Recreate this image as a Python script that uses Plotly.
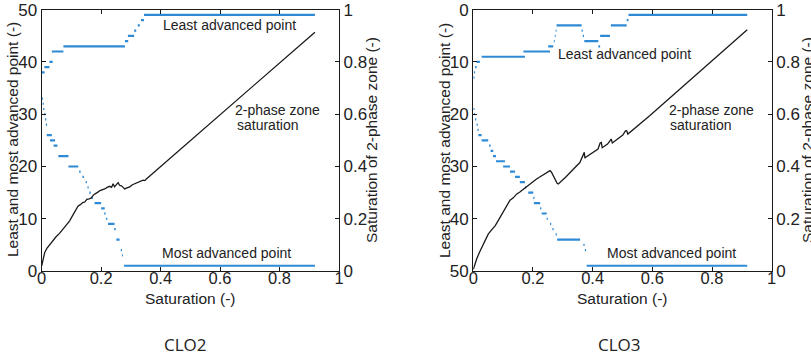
import plotly.graph_objects as go

# ---------------- data: CLO2 ----------------
la2_level = [38, 39, 40, 42, 43, 44, 45, 46, 47, 48, 49]
la2_xs = [0.0, 0.009, 0.026, 0.034, 0.073, 0.280, 0.290, 0.311, 0.323, 0.334, 0.344]
la2_xe = [0.010, 0.026, 0.037, 0.073, 0.280, 0.291, 0.311, 0.318, 0.330, 0.344, 0.919]

ma2_level = [33, 32, 31, 30, 29, 28, 26, 25, 24, 22, 20, 19, 18, 17, 16, 15, 14, 13,
             12, 11, 10, 9, 8, 6, 4, 3, 1]
ma2_xs = [0.0, 0.003, 0.005, 0.008, 0.011, 0.014, 0.017, 0.028, 0.040, 0.056, 0.090,
          0.126, 0.137, 0.148, 0.154, 0.160, 0.166, 0.178, 0.200, 0.210, 0.216, 0.223,
          0.244, 0.251, 0.266, 0.270, 0.277]
ma2_xe = [0.004, 0.007, 0.009, 0.012, 0.015, 0.018, 0.034, 0.045, 0.053, 0.090, 0.123,
          0.131, 0.142, 0.152, 0.158, 0.165, 0.172, 0.200, 0.212, 0.215, 0.221, 0.245,
          0.249, 0.262, 0.270, 0.273, 0.919]

sat2_x = [0, 0.004, 0.010, 0.018, 0.027, 0.038, 0.049, 0.060, 0.072, 0.080, 0.088,
          0.094, 0.100, 0.111, 0.122, 0.130, 0.138, 0.145, 0.152, 0.160, 0.167, 0.175,
          0.182, 0.189, 0.196, 0.204, 0.212, 0.220, 0.229, 0.235, 0.240, 0.245, 0.251,
          0.257, 0.262, 0.268, 0.274, 0.279, 0.287, 0.296, 0.305, 0.312, 0.318, 0.326,
          0.334, 0.341, 0.347, 0.352, 0.919]
sat2_s = [0.020, 0.044, 0.070, 0.088, 0.102, 0.116, 0.132, 0.144, 0.160, 0.170, 0.184,
          0.192, 0.204, 0.224, 0.248, 0.254, 0.262, 0.264, 0.274, 0.276, 0.280, 0.292,
          0.296, 0.302, 0.308, 0.310, 0.314, 0.320, 0.324, 0.320, 0.334, 0.322, 0.332,
          0.338, 0.328, 0.326, 0.320, 0.314, 0.318, 0.322, 0.330, 0.334, 0.338, 0.340,
          0.344, 0.348, 0.346, 0.352, 0.914]

# ---------------- data: CLO3 ----------------
la3_level = [13, 12, 11, 10, 9, 8, 7, 6, 5, 4, 3, 4, 5, 6, 7, 5, 3, 2, 1]
la3_xs = [0.0, 0.002, 0.006, 0.011, 0.028, 0.168, 0.251, 0.270, 0.273, 0.276, 0.279,
          0.363, 0.367, 0.372, 0.419, 0.425, 0.461, 0.514, 0.520]
la3_xe = [0.004, 0.006, 0.011, 0.022, 0.173, 0.257, 0.268, 0.273, 0.276, 0.279, 0.363,
          0.367, 0.371, 0.419, 0.425, 0.458, 0.514, 0.520, 0.918]

ma3_level = [19, 20, 21, 22, 23, 24, 25, 26, 27, 28, 29, 30, 31, 32, 33, 34, 35, 36,
             37, 38, 39, 40, 41, 42, 43, 44, 45, 46, 49]
ma3_xs = [0.0, 0.002, 0.006, 0.011, 0.014, 0.017, 0.028, 0.053, 0.058, 0.066, 0.076,
          0.100, 0.123, 0.140, 0.156, 0.173, 0.184, 0.201, 0.203, 0.224, 0.229, 0.246,
          0.257, 0.265, 0.276, 0.281, 0.369, 0.374, 0.380]
ma3_xe = [0.004, 0.006, 0.010, 0.015, 0.018, 0.028, 0.050, 0.058, 0.067, 0.076, 0.106,
          0.123, 0.140, 0.156, 0.173, 0.177, 0.201, 0.205, 0.224, 0.228, 0.246, 0.250,
          0.261, 0.269, 0.280, 0.358, 0.373, 0.378, 0.918]

sat3_x = [0, 0.005, 0.011, 0.020, 0.028, 0.040, 0.050, 0.062, 0.073, 0.082, 0.089,
          0.098, 0.106, 0.115, 0.123, 0.134, 0.145, 0.156, 0.168, 0.180, 0.190, 0.200,
          0.212, 0.220, 0.229, 0.238, 0.246, 0.252, 0.257, 0.262, 0.268, 0.273, 0.277,
          0.281, 0.285, 0.310, 0.357, 0.365, 0.372, 0.374, 0.377, 0.418, 0.425, 0.429,
          0.432, 0.450, 0.460, 0.462, 0.466, 0.501, 0.510, 0.514, 0.518, 0.592, 0.918]
sat3_s = [0.006, 0.025, 0.045, 0.070, 0.089, 0.115, 0.141, 0.158, 0.173, 0.190, 0.204,
          0.220, 0.237, 0.255, 0.271, 0.280, 0.294, 0.302, 0.313, 0.325, 0.335, 0.342,
          0.352, 0.358, 0.365, 0.370, 0.377, 0.380, 0.384, 0.378, 0.364, 0.350, 0.339,
          0.336, 0.333, 0.360, 0.415, 0.440, 0.454, 0.432, 0.435, 0.467, 0.490, 0.492,
          0.472, 0.486, 0.503, 0.505, 0.490, 0.520, 0.536, 0.537, 0.524, 0.595, 0.923]

x_ticks = [0, 0.2, 0.4, 0.6, 0.8, 1]
x_tick_text = ["0", "0.2", "0.4", "0.6", "0.8", "1"]
pos_ticks = [0, 10, 20, 30, 40, 50]
sat_ticks = [0, 0.2, 0.4, 0.6, 0.8, 1]
sat_tick_text = ["0", "0.2", "0.4", "0.6", "0.8", "1"]

BLUE = "#2e8ad4"
INK = "#1a1a1a"
FONT = "Liberation Sans, Arial, sans-serif"


def steps(levels, xs, xe):
    X, Y = [], []
    for l, a, b in zip(levels, xs, xe):
        X += [a, b, None]
        Y += [l, l, None]
    return X, Y


fig = go.Figure()
for lev, xs, xe, xa, ya in [(la2_level, la2_xs, la2_xe, "x", "y"),
                            (ma2_level, ma2_xs, ma2_xe, "x", "y"),
                            (la3_level, la3_xs, la3_xe, "x2", "y3"),
                            (ma3_level, ma3_xs, ma3_xe, "x2", "y3")]:
    X, Y = steps(lev, xs, xe)
    fig.add_trace(go.Scatter(x=X, y=Y, mode="lines", xaxis=xa, yaxis=ya,
                             line=dict(color=BLUE, width=2.2), connectgaps=False,
                             showlegend=False, hoverinfo="skip"))

fig.add_trace(go.Scatter(x=sat2_x, y=sat2_s, mode="lines", xaxis="x", yaxis="y2",
                         line=dict(color=INK, width=1.3), showlegend=False))
fig.add_trace(go.Scatter(x=sat3_x, y=sat3_s, mode="lines", xaxis="x2", yaxis="y4",
                         line=dict(color=INK, width=1.3), showlegend=False))

W, H = 811, 358


def px(x):
    return x / W


def py(y):
    return 1 - y / H


yd = [py(271), py(9.7)]
xd1 = [px(41.7), px(339)]
xd2 = [px(473.3), px(771.7)]

axis_common = dict(showgrid=False, zeroline=False, showline=True, linecolor=INK,
                   linewidth=1.3, ticks="inside", ticklen=4, tickwidth=1.1,
                   tickcolor=INK, automargin=False,
                   tickfont=dict(family=FONT, size=17, color="#222"))
xaxis_common = dict(axis_common, tickfont=dict(family=FONT, size=16.5, color="#222"))

fig.update_layout(
    width=W, height=H, margin=dict(l=0, r=0, t=0, b=0),
    paper_bgcolor="white", plot_bgcolor="white", showlegend=False,
    xaxis=dict(domain=xd1, range=[0, 1], tickvals=x_ticks, ticktext=x_tick_text,
               anchor="y", mirror="ticks", ticklabelstandoff=-8, **xaxis_common),
    yaxis=dict(domain=yd, range=[0, 50], tickvals=pos_ticks, anchor="x", **axis_common),
    yaxis2=dict(range=[0, 1], tickvals=sat_ticks, ticktext=sat_tick_text,
                overlaying="y", side="right", anchor="x", **axis_common),
    xaxis2=dict(domain=xd2, range=[0, 1], tickvals=x_ticks, ticktext=x_tick_text,
                anchor="y3", mirror="ticks", ticklabelstandoff=-8, **xaxis_common),
    yaxis3=dict(domain=yd, range=[50, 0], tickvals=pos_ticks, anchor="x2", **axis_common),
    yaxis4=dict(range=[0, 1], tickvals=sat_ticks, ticktext=sat_tick_text,
                overlaying="y3", side="right", anchor="x2", **axis_common),
)

ann = []
tf = dict(family=FONT, size=15.5, color="#222")
lf = dict(family=FONT, size=14, color="#222")
# axis titles
for xc, txt in [(13, "Least and most advanced point (-)"), (372, "Saturation of 2-phase zone (-)"),
                (445, "Least and most advanced point (-)"), (808, "Saturation of 2-phase zone (-)")]:
    ann.append(dict(x=px(xc), y=py(140), xref="paper", yref="paper", text=txt,
                    textangle=-90, showarrow=False, font=tf, xanchor="center", yanchor="middle"))
for xc in [189.5, 621.7]:
    ann.append(dict(x=px(xc), y=py(298.5), xref="paper", yref="paper", text="Saturation (-)",
                    showarrow=False, font=tf, xanchor="center", yanchor="middle"))
for xc, txt in [(185, "CLO2"), (619, "CLO3")]:
    ann.append(dict(x=px(xc), y=py(344), xref="paper", yref="paper", text=txt,
                    showarrow=False, font=dict(family="Open Sans, sans-serif", size=17, color="#222"),
                    xanchor="center", yanchor="middle"))
# in-plot labels
ann += [
    dict(x=0.63, y=47, xref="x", yref="y", text="Least advanced point", showarrow=False, font=lf),
    dict(x=0.645, y=30.8, xref="x", yref="y", text="2-phase zone", showarrow=False, font=lf, xanchor="left"),
    dict(x=0.651, y=27.9, xref="x", yref="y", text="saturation", showarrow=False, font=lf, xanchor="left"),
    dict(x=0.622, y=3.4, xref="x", yref="y", text="Most advanced point", showarrow=False, font=lf),
    dict(x=0.508, y=8.5, xref="x2", yref="y3", text="Least advanced point", showarrow=False, font=lf),
    dict(x=0.648, y=19.2, xref="x2", yref="y3", text="2-phase zone", showarrow=False, font=lf, xanchor="left"),
    dict(x=0.654, y=22.1, xref="x2", yref="y3", text="saturation", showarrow=False, font=lf, xanchor="left"),
    dict(x=0.665, y=46.6, xref="x2", yref="y3", text="Most advanced point", showarrow=False, font=lf),
]
fig.update_layout(annotations=ann)

# remove the default 8px page margin so the figure fills the window exactly
fig.write_html("out.html", config={"displayModeBar": False},
               post_script="document.body.style.margin='0';document.body.style.overflow='hidden';")
